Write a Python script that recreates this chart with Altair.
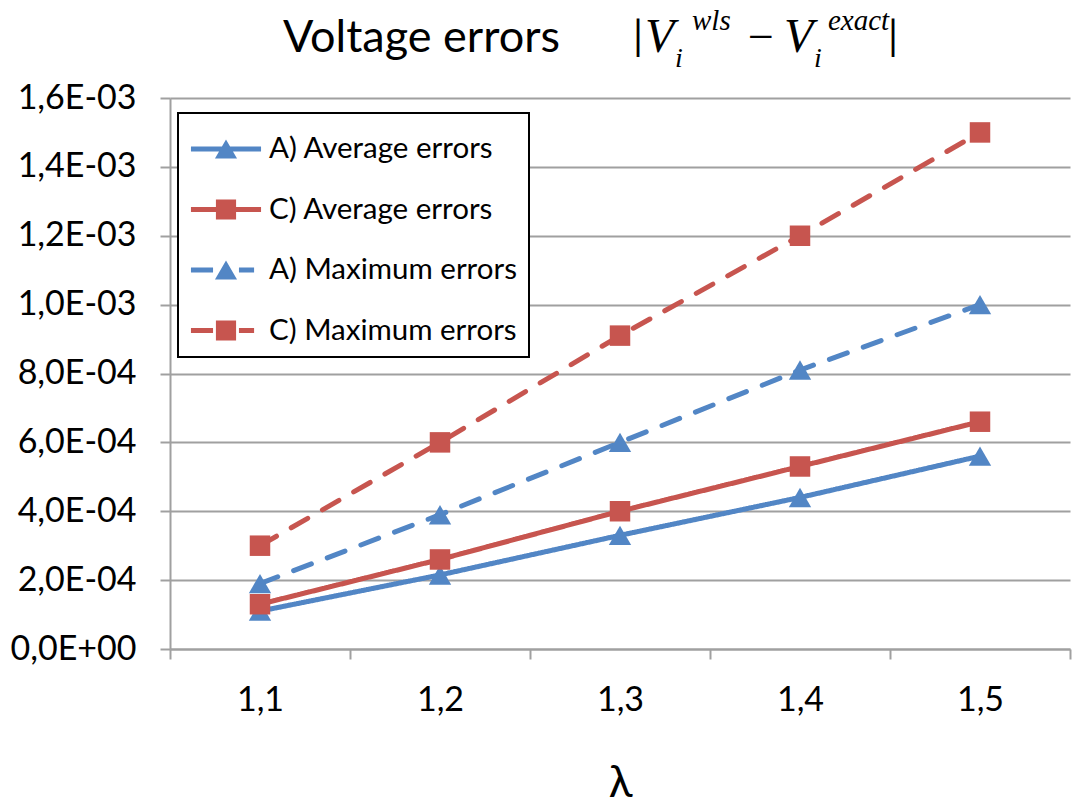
import json
import altair as alt
import pandas as pd

# ---- data ----
lam = ["1,1", "1,2", "1,3", "1,4", "1,5"]
a_avg = [1.1e-4, 2.15e-4, 3.3e-4, 4.4e-4, 5.6e-4]
c_avg = [1.3e-4, 2.6e-4, 4.0e-4, 5.3e-4, 6.6e-4]
a_max = [1.9e-4, 3.9e-4, 6.0e-4, 8.1e-4, 1.0e-3]
c_max = [3.0e-4, 6.0e-4, 9.1e-4, 1.2e-3, 1.5e-3]
series = ["A) Average errors", "C) Average errors", "A) Maximum errors", "C) Maximum errors"]
y_ticks = [0, 0.0002, 0.0004, 0.0006, 0.0008, 0.001, 0.0012, 0.0014, 0.0016]
y_tick_labels = ["0,0E+00", "2,0E-04", "4,0E-04", "6,0E-04", "8,0E-04",
                 "1,0E-03", "1,2E-03", "1,4E-03", "1,6E-03"]

BLUE = "#5286C5"
RED = "#C7554F"
GRID = "#A0A0A0"
SANS = "Lato"
SERIF = "Liberation Serif"

rows = []
for name, vals in zip(series, [a_avg, c_avg, a_max, c_max]):
    for l, v in zip(lam, vals):
        rows.append({"series": name, "lam": l, "value": v, "method": name[0]})
df = pd.DataFrame(rows)

LEG = alt.Legend(orient="none", legendX=8, legendY=15, title=None,
                 rowPadding=21.5, labelLimit=500)
color_scale = alt.Scale(domain=series, range=[BLUE, RED, BLUE, RED])
dash_scale = alt.Scale(domain=series, range=[[1, 0], [1, 0], [19, 17], [19, 17]])

# legend symbols: line + marker drawn as custom paths (1 unit = 24 px)
def rect(x0, x1, h=0.104):
    return f"M{x0},{-h}L{x1},{-h}L{x1},{h}L{x0},{h}Z"

tri = "M0.5,-0.40L0.96,0.40L0.04,0.40Z"
sq = "M0.08,-0.42L0.92,-0.42L0.92,0.42L0.08,0.42Z"
solid_line = rect(-0.96, 1.96)
dashed_line = rect(-0.96, -0.04) + rect(1.04, 1.67)
legend_paths = [solid_line + tri, solid_line + sq, dashed_line + tri, dashed_line + sq]
shape_scale = alt.Scale(domain=series, range=legend_paths)

x_enc = alt.X(
    "lam:N", sort=lam,
    scale=alt.Scale(type="band", domain=lam, paddingInner=0, paddingOuter=0),
    axis=alt.Axis(title="λ", labelAngle=0, tickBand="extent", grid=False,
                  tickSize=10, labelPadding=24, titlePadding=44,
                  titleFontSize=44, titleFont=SANS, titleFontWeight="normal"),
)
y_enc = alt.Y(
    "value:Q",
    scale=alt.Scale(domain=[0, 0.0016], nice=False, zero=True),
    axis=alt.Axis(title=None, values=y_ticks,
                  labelExpr=f"{json.dumps(y_tick_labels)}[round(datum.value*5000)]",
                  tickSize=10, labelPadding=24),
)

base = alt.Chart(df)

legend_layer = base.transform_filter("false").mark_point(
    filled=True, opacity=1, strokeWidth=0
).encode(
    x=x_enc, y=y_enc,
    color=alt.Color("series:N", scale=color_scale, legend=LEG),
    shape=alt.Shape("series:N", scale=shape_scale, legend=LEG),
)

lines = base.mark_line(strokeWidth=5, strokeCap="round", strokeJoin="round").encode(
    x=x_enc, y=y_enc,
    color=alt.Color("series:N", scale=color_scale, legend=LEG),
    strokeDash=alt.StrokeDash("series:N", scale=dash_scale, legend=LEG),
    detail="series:N",
)

triangles = base.transform_filter("datum.method == 'A'").mark_point(
    shape="triangle-up", filled=True, size=500, opacity=1
).encode(x=x_enc, y=y_enc, color=alt.Color("series:N", scale=color_scale, legend=LEG))

squares = base.transform_filter("datum.method == 'C'").mark_point(
    shape="square", filled=True, size=420, opacity=1
).encode(x=x_enc, y=y_enc, color=alt.Color("series:N", scale=color_scale, legend=LEG))


def txt(s, xpx, ypx, size, font, italic=False, align="left"):
    return alt.Chart(alt.Data(values=[{"k": 0}])).mark_text(
        text=s, font=font, fontSize=size, fontStyle="italic" if italic else "normal",
        align=align, baseline="alphabetic", color="black"
    ).encode(x=alt.value(xpx - 170), y=alt.value(ypx - 98))


title_parts = [
    txt("Voltage errors", 283, 52, 45, SANS),
    txt("|", 633, 50, 40, SANS),
    txt("V", 645, 52, 48, SERIF, True),
    txt("i", 675, 67, 28, SERIF, True),
    txt("wls", 692, 30, 29, SERIF, True),
    txt("−", 748, 52, 46, SERIF),
    txt("V", 784, 52, 48, SERIF, True),
    txt("i", 814, 67, 28, SERIF, True),
    txt("exact", 828, 30, 29, SERIF, True),
    txt("|", 888, 50, 40, SANS),
]

chart = alt.layer(legend_layer, lines, triangles, squares, *title_parts).properties(
    width=900, height=551,
    padding={"left": 170, "top": 98, "right": 6, "bottom": 157},
    autosize=alt.AutoSizeParams(type="none"),
).configure_view(stroke=None).configure_axis(
    domainColor=GRID, domainWidth=2, tickColor=GRID, tickWidth=2,
    gridColor=GRID, gridWidth=2, labelFont=SANS, labelFontSize=34, labelColor="black",
    titleColor="black",
).configure_axisX(grid=False).configure_legend(
    strokeColor="black", strokeWidth=2, fillColor="white", padding=12,
    labelFont=SANS, labelFontSize=29.5, labelColor="black", labelOffset=31,
    symbolSize=2304, symbolStrokeWidth=0, symbolOpacity=1,
    cornerRadius=0,
)

chart.save("out.html", embed_options={"renderer": "svg", "actions": False})
